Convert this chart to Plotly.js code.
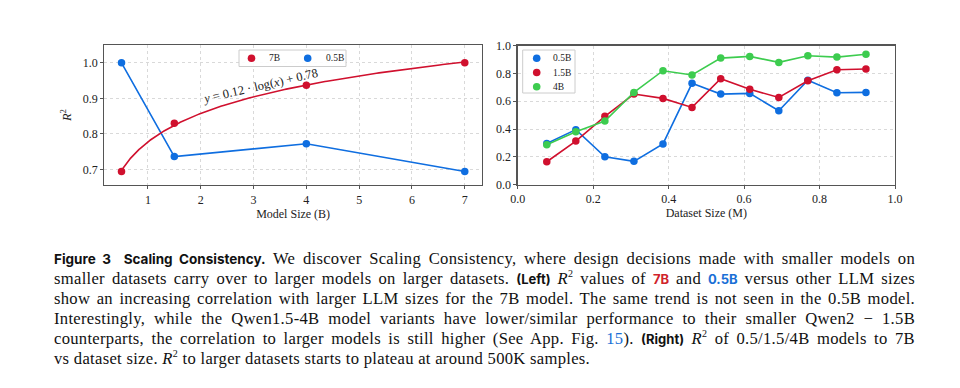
<!DOCTYPE html>
<html>
<head>
<meta charset="utf-8">
<script src="https://cdn.plot.ly/plotly-3.0.1.min.js"></script>
<style>
  html, body { margin: 0; padding: 0; background: #fff; }
  #wrap { position: relative; width: 960px; height: 388px; overflow: hidden; }
  #chart { position: absolute; left: 0; top: 0; width: 960px; height: 388px; }
  #caption { position: absolute; left: 54px; top: 249px; width: 861px;
    font-family: "Liberation Serif", serif; font-size: 16.6px; letter-spacing: 0.3px; line-height: 20px; color: #111; }
  #caption .ln { text-align: justify; text-align-last: justify; height: 20px; }
  #caption .last { text-align: left; text-align-last: left; }
  .sb { font-family: "Inter", "Liberation Sans", sans-serif; font-weight: 700; font-size: 13.5px; letter-spacing: 0; }
  .sbs { font-family: "Inter", "Liberation Sans", sans-serif; font-weight: 700; font-size: 13px; letter-spacing: 0; }
  .red { color: #d0232b; }
  .blue { color: #1a6fd6; }
  sup { font-size: 10px; line-height: 0; }
</style>
</head>
<body>
<div id="wrap">
<div id="chart"></div>
<div id="caption">
  <div class="ln"><span class="sb">Figure 3&nbsp; Scaling Consistency.</span> We discover Scaling Consistency, where design decisions made with smaller models on</div>
  <div class="ln">smaller datasets carry over to larger models on larger datasets. <span class="sbs">(Left)</span> <i>R</i><sup>2</sup> values of <span class="sbs red">7B</span> and <span class="sbs blue">0.5B</span> versus other LLM sizes</div>
  <div class="ln">show an increasing correlation with larger LLM sizes for the 7B model. The same trend is not seen in the 0.5B model.</div>
  <div class="ln">Interestingly, while the Qwen1.5-4B model variants have lower/similar performance to their smaller Qwen2 &minus; 1.5B</div>
  <div class="ln">counterparts, the correlation to larger models is still higher (See App. Fig. <span class="blue">15</span>). <span class="sbs">(Right)</span> <i>R</i><sup>2</sup> of 0.5/1.5/4B models to 7B</div>
  <div class="ln last">vs dataset size. <i>R</i><sup>2</sup> to larger datasets starts to plateau at around 500K samples.</div>
</div>
</div>
<script>
// ---- Left panel data: R^2 vs model size ----
const modelSizes = [0.5, 1.5, 4, 7];
const r2_7B  = [0.694, 0.830, 0.937, 1.000];
const r2_05B = [1.000, 0.736, 0.772, 0.694];
const leftXTicks = [1, 2, 3, 4, 5, 6, 7];
const leftYTicks = [0.7, 0.8, 0.9, 1.0];
const leftLegendNames = ["7B", "0.5B"];
const fitLabel = "<i>y</i> = 0.12 · log(<i>x</i>) + 0.78";

// ---- Right panel data: R^2 vs dataset size ----
const datasetSizes = [0.077, 0.154, 0.231, 0.308, 0.385, 0.462, 0.538, 0.615, 0.692, 0.769, 0.846, 0.923];
const r2_ds_05B = [0.297, 0.396, 0.201, 0.168, 0.293, 0.729, 0.652, 0.657, 0.532, 0.751, 0.662, 0.664];
const r2_ds_15B = [0.165, 0.314, 0.492, 0.652, 0.621, 0.556, 0.763, 0.686, 0.628, 0.748, 0.827, 0.832];
const r2_ds_4B  = [0.288, 0.381, 0.458, 0.664, 0.820, 0.789, 0.911, 0.923, 0.880, 0.928, 0.918, 0.938];
const rightTicks = [0.0, 0.2, 0.4, 0.6, 0.8, 1.0];
const rightLegendNames = ["0.5B", "1.5B", "4B"];

const RED = "#d0102e", BLUE = "#0f6ee0", GREEN = "#3dcc4f";
const FONT = "Liberation Serif, serif";

// least-squares fit y = a*ln(x) + b on the 7B points (as in the original)
function logFit(xs, ys) {
  const lx = xs.map(Math.log);
  const mx = lx.reduce((s, v) => s + v, 0) / lx.length;
  const my = ys.reduce((s, v) => s + v, 0) / ys.length;
  let sxy = 0, sxx = 0;
  for (let i = 0; i < lx.length; i++) { sxy += (lx[i] - mx) * (ys[i] - my); sxx += (lx[i] - mx) ** 2; }
  const a = sxy / sxx; return { a: a, b: my - a * mx };
}
const fit = logFit(modelSizes, r2_7B);
const fitX = [], fitY = [];
const lx0 = Math.log(modelSizes[0]), lx1 = Math.log(modelSizes[modelSizes.length - 1]);
for (let i = 0; i <= 300; i++) { const x = Math.exp(lx0 + (lx1 - lx0) * i / 300); fitX.push(x); fitY.push(fit.a * Math.log(x) + fit.b); }

const mk = (c) => ({ color: c, size: 7.5 });
const traces = [
  { x: modelSizes, y: r2_05B, name: "0.5B", mode: "lines+markers", line: { color: BLUE, width: 1.6 }, marker: mk(BLUE), xaxis: "x", yaxis: "y" },
  { x: modelSizes, y: r2_7B, name: "7B", mode: "markers", marker: mk(RED), xaxis: "x", yaxis: "y" },
  { x: fitX, y: fitY, name: "7B fit", mode: "lines", line: { color: RED, width: 1.6 }, xaxis: "x", yaxis: "y", hoverinfo: "skip" },
  { x: datasetSizes, y: r2_ds_05B, name: "0.5B", mode: "lines+markers", line: { color: BLUE, width: 1.6 }, marker: mk(BLUE), xaxis: "x2", yaxis: "y2" },
  { x: datasetSizes, y: r2_ds_15B, name: "1.5B", mode: "lines+markers", line: { color: RED, width: 1.6 }, marker: mk(RED), xaxis: "x2", yaxis: "y2" },
  { x: datasetSizes, y: r2_ds_4B, name: "4B", mode: "lines+markers", line: { color: GREEN, width: 1.6 }, marker: mk(GREEN), xaxis: "x2", yaxis: "y2" }
];

const axBase = {
  showline: true, mirror: true, linecolor: "#555", linewidth: 1.3,
  ticks: "outside", ticklen: 3, tickcolor: "#555", tickwidth: 1,
  showgrid: true, gridcolor: "#cfcfcf", griddash: "dot", gridwidth: 0.8,
  zeroline: false, tickfont: { family: FONT, size: 12, color: "#222" }
};

// Legend boxes drawn as layout decorations (matplotlib-style compact legends)
const W = 960, H = 388;
const px = (v) => v / W, py = (v) => 1 - v / H;
const shapes = [], annotations = [];
function legendBox(x0, y0, x1, y1) {
  shapes.push({ type: "rect", xref: "paper", yref: "paper", x0: px(x0), x1: px(x1), y0: py(y0), y1: py(y1),
    line: { color: "#cccccc", width: 1 }, fillcolor: "rgba(255,255,255,0.9)", layer: "above" });
}
function legendItem(name, color, mx, my, tx) {
  const r = 3.8;
  shapes.push({ type: "circle", xref: "paper", yref: "paper", x0: px(mx - r), x1: px(mx + r), y0: py(my + r), y1: py(my - r),
    line: { color: color, width: 0 }, fillcolor: color, layer: "above" });
  annotations.push({ xref: "paper", yref: "paper", x: px(tx), y: py(my), xanchor: "left", yanchor: "middle",
    text: name, showarrow: false, font: { family: FONT, size: 9.5, color: "#222" } });
}
legendBox(239, 50, 346, 66.5);
legendItem(leftLegendNames[0], RED, 251.5, 58.2, 267);
legendItem(leftLegendNames[1], BLUE, 307.7, 58.2, 324);
legendBox(522.7, 50, 575, 93);
const rightColors = [BLUE, RED, GREEN];
rightLegendNames.forEach((n, i) => legendItem(n, rightColors[i], 536.7, 58.3 + i * 14.2, 551));

annotations.push({ xref: "x", yref: "y", x: 3.12, y: 0.934, text: fitLabel, showarrow: false, textangle: -13,
  font: { family: FONT, size: 12.5, color: "#222" } });

const layout = {
  width: 960, height: 388, margin: { l: 0, r: 0, t: 0, b: 0 },
  paper_bgcolor: "#fff", plot_bgcolor: "#fff", showlegend: false,
  font: { family: FONT, color: "#222" },
  xaxis: Object.assign({}, axBase, { domain: [0.1087, 0.502], anchor: "y", range: [0.175, 7.325],
    tickmode: "array", tickvals: leftXTicks, ticktext: leftXTicks.map(String),
    title: { text: "Model Size (B)", font: { family: FONT, size: 12, color: "#222" }, standoff: 3 } }),
  yaxis: Object.assign({}, axBase, { domain: [0.5232, 0.884], anchor: "x", range: [0.656, 1.05],
    tickmode: "array", tickvals: leftYTicks, ticktext: leftYTicks.map(v => v.toFixed(1)),
    title: { text: "<i>R</i><sup>2</sup>", font: { family: FONT, size: 12.5, color: "#222" }, standoff: 8 } }),
  xaxis2: Object.assign({}, axBase, { domain: [0.5393, 0.9323], anchor: "y2", range: [0, 1],
    tickmode: "array", tickvals: rightTicks, ticktext: rightTicks.map(v => v.toFixed(1)),
    title: { text: "Dataset Size (M)", font: { family: FONT, size: 12, color: "#222" }, standoff: 3 } }),
  yaxis2: Object.assign({}, axBase, { domain: [0.524, 0.8822], anchor: "x2", range: [0, 1],
    tickmode: "array", tickvals: rightTicks, ticktext: rightTicks.map(v => v.toFixed(1)) }),
  shapes: shapes,
  annotations: annotations
};

Plotly.newPlot("chart", traces, layout, { displayModeBar: false, staticPlot: true });
</script>
</body>
</html>
